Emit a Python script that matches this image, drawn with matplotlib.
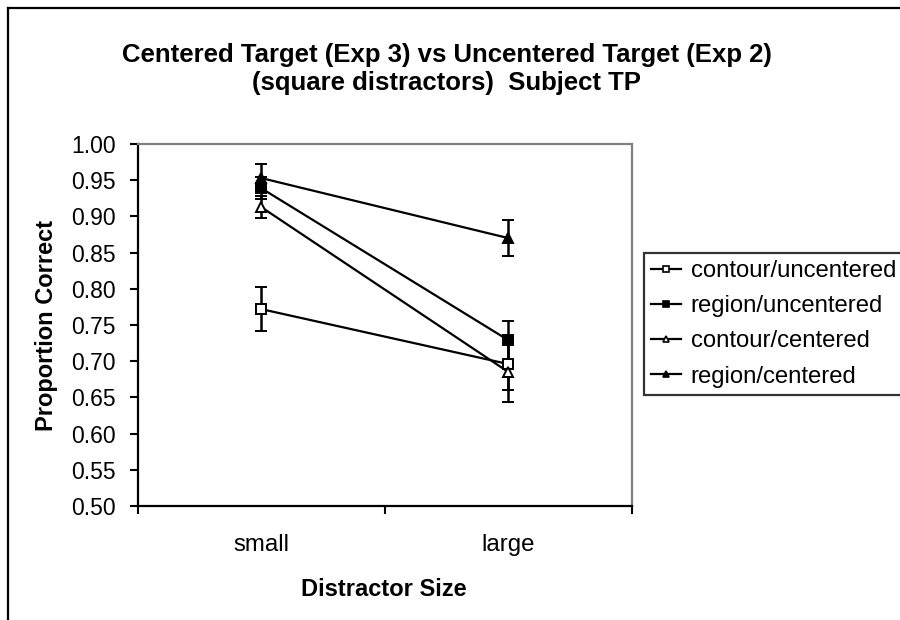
import matplotlib
matplotlib.use("Agg")
import matplotlib.pyplot as plt
from matplotlib.lines import Line2D

plt.rcParams['font.family'] = ['Liberation Sans', 'DejaVu Sans']

categories = ['small', 'large']
series_names = ['contour/uncentered', 'region/uncentered', 'contour/centered', 'region/centered']
contour_uncentered = [0.772, 0.696]
contour_uncentered_err = [0.030, 0.036]
region_uncentered = [0.939, 0.729]
region_uncentered_err = [0.015, 0.027]
contour_centered = [0.913, 0.685]
contour_centered_err = [0.015, 0.041]
region_centered = [0.953, 0.870]
region_centered_err = [0.019, 0.025]
y_ticks = [0.50, 0.55, 0.60, 0.65, 0.70, 0.75, 0.80, 0.85, 0.90, 0.95, 1.00]

values = [contour_uncentered, region_uncentered, contour_centered, region_centered]
errors = [contour_uncentered_err, region_uncentered_err, contour_centered_err, region_centered_err]
markers = ['s', 's', '^', '^']
faces = ['white', 'black', 'white', 'black']

W, H = 900, 620
fig = plt.figure(figsize=(9, 6.2), dpi=100)
ax = fig.add_axes([137.5 / W, 1 - 506 / H, (632 - 137.5) / W, (506 - 144) / H])

x = list(range(len(categories)))
for v, e, m, fc in zip(values, errors, markers, faces):
    ax.errorbar(x, v, yerr=e, color='black', lw=1.6, marker=m, ms=7,
                mfc=fc, mec='black', mew=1.4, ecolor='black', elinewidth=1.8,
                capsize=4.5, capthick=1.8, zorder=3)

ax.set_xlim(-0.5, 1.5)
ax.set_ylim(0.5, 1.0)
ax.set_yticks(y_ticks)
ax.set_yticklabels([f'{t:.2f}' for t in y_ticks])
ax.set_xticks([-0.5, 0.5, 1.5])
ax.set_xticklabels(['', '', ''])
ax.set_xticks(x, minor=True)
ax.set_xticklabels(categories, minor=True)
ax.tick_params(axis='y', which='major', direction='out', length=6, width=1.5,
               pad=9.5, labelsize=16.5)
ax.tick_params(axis='x', which='major', direction='out', length=6, width=1.5)
ax.tick_params(axis='x', which='minor', length=0, pad=20, labelsize=17.3)

for s in ['left', 'bottom']:
    ax.spines[s].set_color('black')
    ax.spines[s].set_linewidth(1.6)
for s in ['top', 'right']:
    ax.spines[s].set_color('#808080')
    ax.spines[s].set_linewidth(1.6)

fig.text(47 / W, 1 - 325 / H, 'Proportion Correct', rotation=90, ha='center',
         va='center', fontsize=17, fontweight='bold')
fig.text(384 / W, 1 - 590 / H, 'Distractor Size', ha='center', va='center',
         fontsize=17, fontweight='bold')
fig.text(447 / W, 1 - 55 / H, 'Centered Target (Exp 3) vs Uncentered Target (Exp 2)',
         ha='center', va='center', fontsize=18.5, fontweight='bold')
fig.text(447 / W, 1 - 83 / H, '(square distractors)  Subject TP',
         ha='center', va='center', fontsize=18.5, fontweight='bold')

handles = [Line2D([0], [0], color='black', lw=1.6, marker=m, ms=4.5, mfc=fc,
                  mec='black', mew=1.2) for m, fc in zip(markers, faces)]
leg = ax.legend(handles, series_names, loc='upper left',
                bbox_to_anchor=(644 / W, 1 - 253 / H), bbox_transform=fig.transFigure,
                fontsize=17.2, frameon=True, fancybox=False, borderpad=0.3,
                handlelength=1.25, handletextpad=0.4, labelspacing=0.55,
                borderaxespad=0)
leg.get_frame().set_edgecolor('black')
leg.get_frame().set_linewidth(1.6)

# outer chart border (left and top visible)
fig.add_artist(Line2D([8 / W, 8 / W], [0, 1 - 8 / H], color='black', lw=1.6,
                      transform=fig.transFigure))
fig.add_artist(Line2D([8 / W, 1], [1 - 8 / H, 1 - 8 / H], color='black', lw=1.6,
                      transform=fig.transFigure))

fig.savefig('out.png', dpi=100)
